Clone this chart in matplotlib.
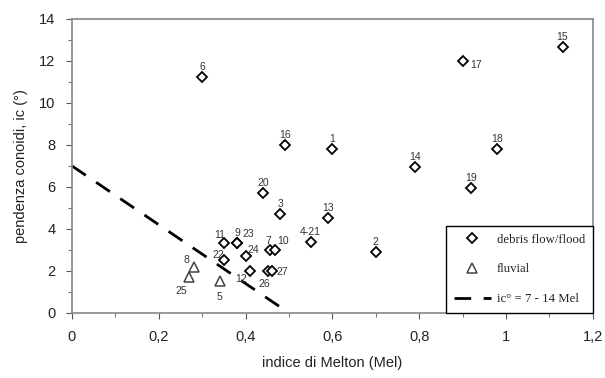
import numpy as np
import matplotlib.pyplot as plt
from matplotlib.lines import Line2D
from matplotlib.legend_handler import HandlerLine2D

# debris flow / flood fans
df_ids = ['6', '16', '1', '14', '17', '15', '18', '19', '13', '4-21', '2',
          '20', '3', '11', '9', '23', '22', '24', '7', '10', '12', '26', '27']
df_mel = [0.30, 0.49, 0.60, 0.79, 0.90, 1.13, 0.98, 0.92, 0.59, 0.55, 0.70,
          0.44, 0.48, 0.35, 0.38, 0.38, 0.35, 0.40, 0.456, 0.468, 0.41, 0.452, 0.46]
df_ic = [11.25, 8.0, 7.8, 6.95, 12.0, 12.65, 7.8, 5.97, 4.5, 3.38, 2.92,
         5.7, 4.7, 3.32, 3.32, 3.32, 2.52, 2.71, 2.98, 2.98, 2.0, 2.0, 2.0]

# fluvial fans
fl_ids = ['8', '25', '5']
fl_mel = [0.28, 0.27, 0.34]
fl_ic = [2.18, 1.7, 1.52]

# threshold ic = 7 - 14 Mel
thr_mel = np.array([0.0, 0.48])
thr_ic = 7 - 14 * thr_mel

# label offsets in pixels (dx, dy), default is straight above
offsets = {'17': (13, -4), '11': (-4, 8), '23': (11, 9), '22': (-6, 5),
           '24': (8, 6), '7': (-2, 9), '10': (8, 9), '12': (-9, -8),
           '26': (-4, -13), '27': (11, -1), '8': (-7, 7), '25': (-8, -14),
           '5': (0, -16)}


class LeftMarker(HandlerLine2D):
    # put the legend marker on the left of the handle box, like the original
    def get_xdata(self, legend, xdescent, ydescent, width, height, fontsize):
        xdata = np.array([-xdescent, -xdescent + width])
        return xdata, np.array([-xdescent + 0.2 * width])


plt.rcParams['font.family'] = ['Liberation Sans', 'DejaVu Sans']

fig = plt.figure(figsize=(6.05, 3.78), dpi=100)
ax = fig.add_axes([0.119, 0.172, 0.861, 0.778])

ax.plot(df_mel, df_ic, 'D', ms=5, mfc='white', mec='black', mew=1.3,
        linestyle='none', zorder=3)
ax.plot(fl_mel, fl_ic, '^', ms=7.5, mfc='white', mec='#444444', mew=1.1,
        linestyle='none', zorder=3)
ax.plot(thr_mel, thr_ic, color='black', lw=2, dashes=(6, 4.5), zorder=2)

for name, x, y in list(zip(df_ids, df_mel, df_ic)) + list(zip(fl_ids, fl_mel, fl_ic)):
    dx, dy = offsets.get(name, (0, 10))
    ax.annotate(name, (x, y), xytext=(dx, dy), textcoords='offset pixels',
                ha='center', va='center', fontsize=7.5, color='#333333')

ax.set_xlim(0, 1.2)
ax.set_ylim(0, 14)
ax.set_xticks(np.arange(0, 1.21, 0.2))
ax.set_xticklabels(['0', '0,2', '0,4', '0,6', '0,8', '1', '1,2'])
ax.set_xticks(np.arange(0, 1.21, 0.1), minor=True)
ax.set_yticks(np.arange(0, 15, 2))
ax.set_yticks(np.arange(0, 15, 1), minor=True)
ax.tick_params(which='both', direction='out', colors='#555555',
               labelcolor='#222222', labelsize=10.5)
ax.tick_params(which='major', length=4, pad=8)
ax.tick_params(which='minor', length=3)
for side in ax.spines.values():
    side.set_color('#888888')
    side.set_linewidth(1.2)

ax.set_xlabel('indice di Melton (Mel)', fontsize=10.5, color='#222222', labelpad=9)
ax.set_ylabel('pendenza conoidi, ic (°)', fontsize=10.5, color='#222222', labelpad=8)

h_df = Line2D([], [], marker='D', ms=5, mfc='white', mec='black', mew=1.3, ls='none')
h_fl = Line2D([], [], marker='^', ms=7.5, mfc='white', mec='#444444', mew=1.1, ls='none')
h_thr = Line2D([], [], color='black', lw=2, dashes=(6, 4.5))
leg = ax.legend([h_df, h_fl, h_thr], ['debris flow/flood', 'fluvial', 'ic° = 7 - 14 Mel'],
                handler_map={h_df: LeftMarker(), h_fl: LeftMarker()},
                loc='lower right', bbox_to_anchor=(1, 0), borderaxespad=0,
                fancybox=False, edgecolor='black', framealpha=1,
                prop={'family': 'Liberation Serif', 'size': 9.2},
                labelspacing=1.4, handlelength=2.9, handletextpad=0.5,
                borderpad=0.6, labelcolor='#222222')
leg.get_frame().set_linewidth(1.0)

fig.savefig('out.png', dpi=100)
